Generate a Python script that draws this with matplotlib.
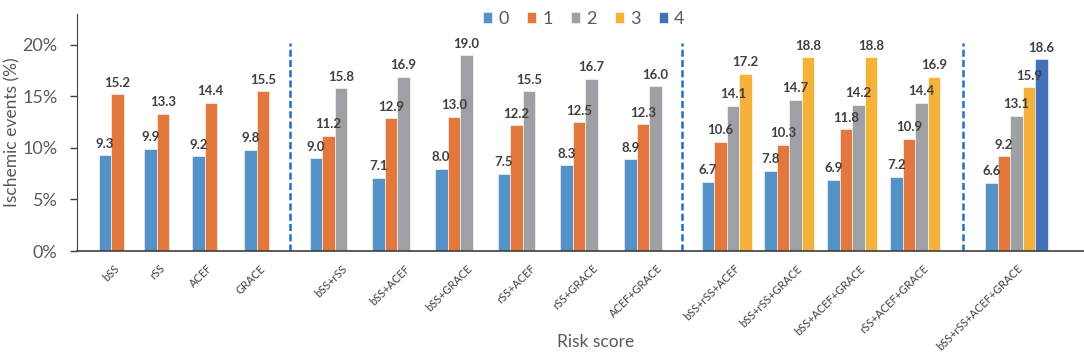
import numpy as np
import matplotlib
matplotlib.use("Agg")
import matplotlib.pyplot as plt
from matplotlib.ticker import FuncFormatter

plt.rcParams['font.family'] = ['Lato', 'DejaVu Sans']

# risk score combinations
categories = ["bSS", "rSS", "ACEF", "GRACE",
              "bSS+rSS", "bSS+ACEF", "bSS+GRACE", "rSS+ACEF", "rSS+GRACE", "ACEF+GRACE",
              "bSS+rSS+ACEF", "bSS+rSS+GRACE", "bSS+ACEF+GRACE", "rSS+ACEF+GRACE",
              "bSS+rSS+ACEF+GRACE"]

# ischemic events (%) per group, one entry per score level present
values = [
    [9.3, 15.2], [9.9, 13.3], [9.2, 14.4], [9.8, 15.5],
    [9.0, 11.2, 15.8], [7.1, 12.9, 16.9], [8.0, 13.0, 19.0],
    [7.5, 12.2, 15.5], [8.3, 12.5, 16.7], [8.9, 12.3, 16.0],
    [6.7, 10.6, 14.1, 17.2], [7.8, 10.3, 14.7, 18.8],
    [6.9, 11.8, 14.2, 18.8], [7.2, 10.9, 14.4, 16.9],
    [6.6, 9.2, 13.1, 15.9, 18.6],
]
levels = ["0", "1", "2", "3", "4"]
colors = ["#5592c8", "#e2783e", "#9fa0a4", "#f4b23a", "#4270b9"]

# layout (x in pixel-like units)
group_left = [98.7, 144.3, 192, 244.3,
              309.5, 372.3, 435, 497.7, 560.3, 624.3,
              701.7, 764.3, 827.3, 890.3,
              985]
bar_w = 12.5
dividers = [290, 681.7, 962.7]

fig = plt.figure(figsize=(10.84, 3.54), dpi=100)
ax = fig.add_axes([77 / 1084, 1 - 251 / 354, 1 - 77 / 1084, (251 - 14) / 354])

for lvl in range(5):
    xs, hs = [], []
    for left, vals in zip(group_left, values):
        if lvl < len(vals):
            xs.append(left + (lvl + 0.5) * bar_w)
            hs.append(vals[lvl])
    bars = ax.bar(xs, hs, width=bar_w, color=colors[lvl], edgecolor="white",
                  linewidth=0.4, label=levels[lvl])
    for b, h in zip(bars, hs):
        ax.annotate(f"{h:.1f}", (b.get_x() + b.get_width() / 2, h), xytext=(0, 4),
                    textcoords="offset points", ha="center", va="bottom",
                    fontsize=9.5, fontweight="bold", color="#404040")

# category tick labels
label_x = []
for i, left in enumerate(group_left):
    if i < 4:
        label_x.append(left + 15)
    else:
        label_x.append(left + 32)
ax.set_xticks(label_x)
ax.set_xticklabels(categories, rotation=45, ha="right", va="top",
                   rotation_mode="anchor", fontsize=7.9, color="#404040")
ax.tick_params(axis="x", length=0, pad=8.5)

for d in dividers:
    ax.plot([d, d], [0, 20.2], color="#1f6fc5", linestyle=(0, (2.8, 1.3)), linewidth=1.8)

ax.set_xlim(77, 1084)
ax.set_ylim(0, 23)
ax.set_yticks([0, 5, 10, 15, 20])
ax.yaxis.set_major_formatter(FuncFormatter(lambda v, p: f"{v:.0f}%"))
ax.tick_params(axis="y", labelsize=13, labelcolor="#595959", color="#404040",
               length=5, width=1, pad=9)

fig.text(12 / 1084, 1 - 132.5 / 354, "Ischemic events (%)", rotation=90,
         ha="center", va="center", fontsize=12.5, color="#595959")

for s in ["top", "right"]:
    ax.spines[s].set_visible(False)
ax.spines["left"].set_color("#404040")
ax.spines["bottom"].set_color("#404040")
ax.spines["bottom"].set_linewidth(1.2)

fig.text(596 / 1084, 1 - 342 / 354, "Risk score", ha="center", va="center",
         fontsize=12.5, color="#595959")

fig.legend(loc="upper center", bbox_to_anchor=(584 / 1084, 1.015), ncol=5, frameon=False,
           fontsize=13, labelcolor="#595959", handlelength=0.5, handleheight=0.5,
           handletextpad=0.35, columnspacing=1.0)

fig.savefig("out.png", dpi=100)
